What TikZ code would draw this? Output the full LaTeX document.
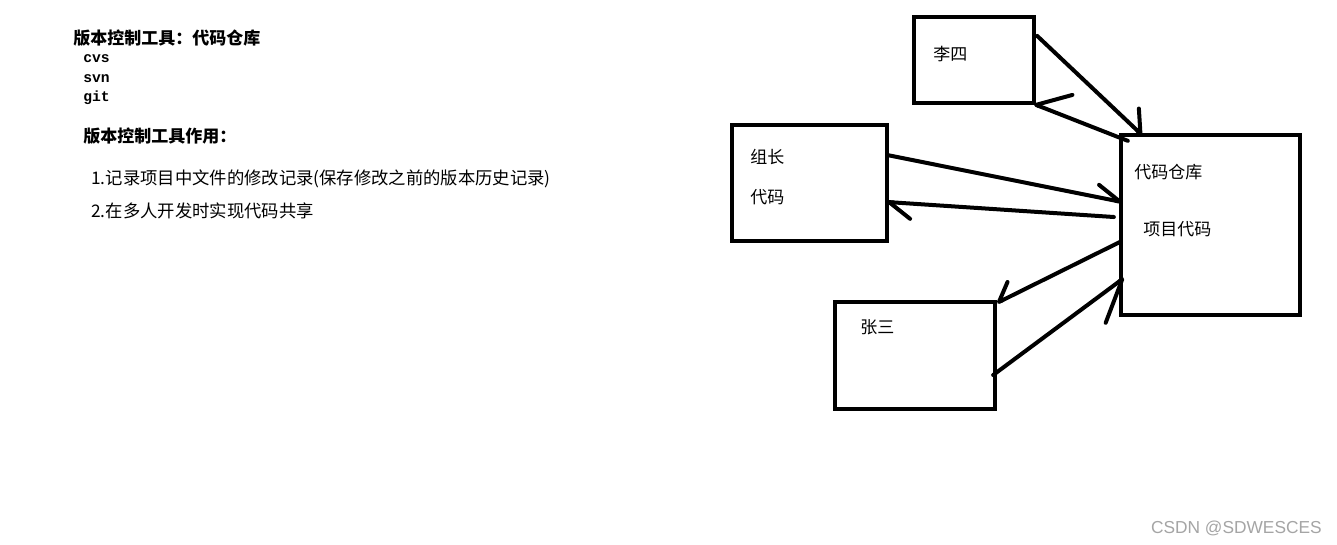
\documentclass[tikz,border=0pt]{standalone}
\usepackage{fontspec}
\usepackage{xcolor}
\usepackage{tikz}
\usetikzlibrary{arrows.meta, calc}
\setmainfont{Noto Sans CJK SC}
\newfontfamily\codefont{Liberation Mono}
\newfontfamily\markfont{Liberation Sans}
\definecolor{SketchInk}{RGB}{0, 0, 0}
\definecolor{SketchMark}{RGB}{165, 165, 165}

\begin{document}
\begin{tikzpicture}[x=0.75pt,y=-0.75pt,
    box/.style={draw=SketchInk, line width=3.2pt, inner sep=0pt},
    txt/.style={anchor=base west, inner sep=0pt, text=SketchInk,
                font=\fontsize{12.75}{15}\selectfont},
    link/.style={draw=SketchInk, line width=3pt, line cap=round}]
  \path[use as bounding box] (0,0) rectangle (1337,544);
  \fill[white] (0,0) rectangle (1337,544);

  % Notes on the left
  \node[txt, font=\fontsize{12.75}{15}\selectfont\bfseries] (title) at (73,44) {版本控制工具：代码仓库};
  \node[txt, font=\codefont\bfseries\fontsize{11}{13}\selectfont] (cvs) at (83,62) {cvs};
  \node[txt, font=\codefont\bfseries\fontsize{11}{13}\selectfont] (svn) at (83,82) {svn};
  \node[txt, font=\codefont\bfseries\fontsize{11}{13}\selectfont] (git) at (83,101) {git};
  \node[txt, font=\fontsize{12.75}{15}\selectfont\bfseries] (usage) at (83,142) {版本控制工具作用：};
  \node[txt, font=\fontsize{13}{15}\selectfont] (usage one) at (91,184) {1.记录项目中文件的修改记录(保存修改之前的版本历史记录)};
  \node[txt, font=\fontsize{13}{15}\selectfont] (usage two) at (91,217) {2.在多人开发时实现代码共享};

  % Boxes
  \node[box, minimum width=90pt, minimum height=64.5pt] (lisi) at (974,60) {};
  \node[box, minimum width=116.25pt, minimum height=87pt] (zuzhang) at (809.5,183) {};
  \node[box, minimum width=134.25pt, minimum height=135pt] (cangku) at (1210.5,225) {};
  \node[box, minimum width=120pt, minimum height=80.25pt] (zhangsan) at (915,355.5) {};

  \node[txt] (lisi name) at (933,60) {李四};
  \node[txt] (zuzhang name) at (750,163) {组长};
  \node[txt] (zuzhang code) at (750,203) {代码};
  \node[txt] (cangku name) at (1134,178) {代码仓库};
  \node[txt] (cangku code) at (1143,235) {项目代码};
  \node[txt] (zhangsan name) at (860,333) {张三};

  % 李四 <-> 代码仓库
  \draw[link, -{Straight Barb[left, round, length=13.7pt, width=25.6pt]}]
    ($(lisi.north east)+(1,21)$) -- ($(cangku.north west)+(23,2)$);
  \draw[link, -{Straight Barb[right, round, length=22.7pt, width=33.8pt]}]
    ($(cangku.north west)+(9,8)$) -- ($(lisi.south east)+(-2,-1)$);

  % 组长 <-> 代码仓库
  \draw[link, -{Straight Barb[left, round, length=17.8pt, width=18.5pt]}]
    ($(zuzhang.east)+(-2,-28)$) -- ($(cangku.west)+(3,-23)$);
  \draw[link, -{Straight Barb[left, round, length=16.5pt, width=22.9pt]}]
    ($(cangku.west)+(-5,-8)$) -- ($(zuzhang.east)+(-2,19)$);

  % 张三 <-> 代码仓库
  \draw[link, -{Straight Barb[right, round, length=12.4pt, width=21.1pt]}]
    ($(cangku.west)+(1,17)$) -- ($(zhangsan.north east)+(0,3)$);
  \draw[link, -{Straight Barb[right, round, length=29.5pt, width=37.7pt]}]
    ($(zhangsan.east)+(-4,19.5)$) -- ($(cangku.west)+(5,53)$);

  \node[anchor=base east, inner sep=0pt, text=SketchMark,
        font=\markfont\fontsize{13}{15}\selectfont] (mark) at (1322,533) {CSDN @SDWESCES};
\end{tikzpicture}
\end{document}
